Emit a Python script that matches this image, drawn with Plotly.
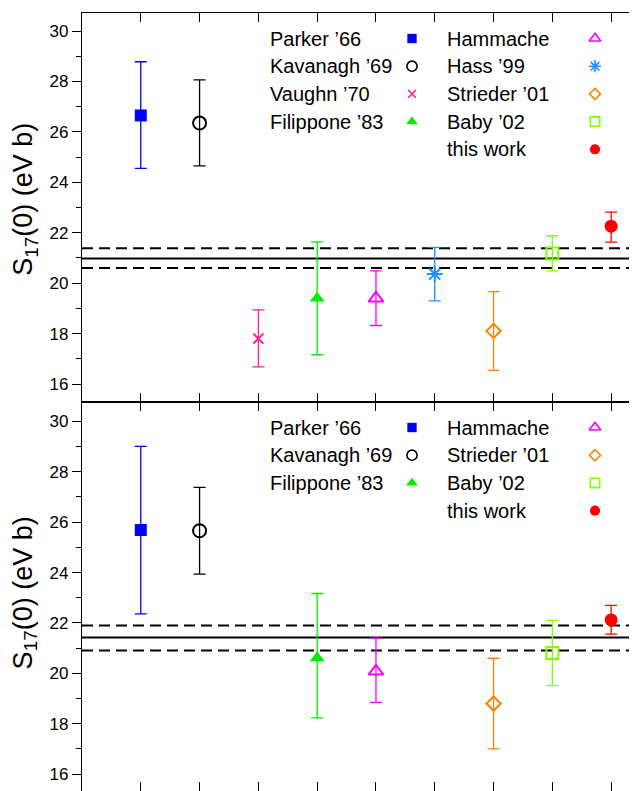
import plotly.graph_objects as go

# ---------------- data ----------------
studies_top = ["Parker ’66", "Kavanagh ’69", "Vaughn ’70", "Filippone ’83", "Hammache",
               "Hass ’99", "Strieder ’01", "Baby ’02", "this work"]
pos_top = [1, 2, 3, 4, 5, 6, 7, 8, 9]
s17_top = [26.65, 26.35, 17.80, 19.40, 19.40, 20.36, 18.10, 21.18, 22.26]
hi_top = [28.78, 28.06, 18.94, 21.64, 20.49, 21.42, 19.66, 21.88, 22.82]
lo_top = [24.55, 24.65, 16.68, 17.16, 18.32, 19.30, 16.54, 20.49, 21.63]
mean_top = 20.98
band_top = [20.60, 21.38]

studies_bot = ["Parker ’66", "Kavanagh ’69", "Filippone ’83", "Hammache",
               "Strieder ’01", "Baby ’02", "this work"]
pos_bot = [1, 2, 4, 5, 7, 8, 9]
s17_bot = [25.69, 25.66, 20.61, 20.08, 18.80, 20.81, 22.12]
hi_bot = [29.01, 27.38, 23.17, 21.40, 20.60, 22.10, 22.70]
lo_bot = [22.36, 23.94, 18.23, 18.85, 17.00, 19.51, 21.56]
mean_bot = 21.42
band_bot = [20.91, 21.90]

legend_top = [["Parker ’66", "Kavanagh ’69", "Vaughn ’70", "Filippone ’83"],
              ["Hammache", "Hass ’99", "Strieder ’01", "Baby ’02", "this work"]]
legend_bot = [["Parker ’66", "Kavanagh ’69", "Filippone ’83"],
              ["Hammache", "Strieder ’01", "Baby ’02", "this work"]]

y_tick_vals = [16, 18, 20, 22, 24, 26, 28, 30]
y_title = "S<sub>17</sub>(0) (eV b)"

# ---------------- styles ----------------
STYLE = {
    "Parker ’66": dict(color="#0000ff", symbol="square", size=12, lw=0),
    "Kavanagh ’69": dict(color="#000000", symbol="circle-open", size=13, lw=2),
    "Vaughn ’70": dict(color="#ff1f8f", symbol="x-thin-open", size=10, lw=2),
    "Filippone ’83": dict(color="#00ee00", symbol="triangle-up", size=13, lw=0),
    "Hammache": dict(color="#ff00ff", symbol="triangle-up-open", size=13, lw=2),
    "Hass ’99": dict(color="#1e90ff", symbol="asterisk-open", size=13, lw=2),
    "Strieder ’01": dict(color="#ff8000", symbol="diamond-open", size=11, lw=2),
    "Baby ’02": dict(color="#80ff00", symbol="square-open", size=12, lw=2),
    "this work": dict(color="#ff0000", symbol="circle", size=13, lw=0),
}
FONT = "Liberation Sans, Arial, sans-serif"
PAGE_OFF = 8                     # default body margin of the html page
W, H = 637 - PAGE_OFF, 791 - PAGE_OFF
ML, MT = 82 - PAGE_OFF, 13 - PAGE_OFF
PW = W - ML                      # plot width in px
PH = (H - MT) / 2                # panel height in px
LEG_TEXT_X = [186, 363]
LEG_MARK_X = [330, 513]
LEG_ROW0, LEG_DY = 25.5, 27.7
LEG_SCALE = 0.78

fig = go.Figure()


def add_panel(studies, pos, vals, hi, lo, xa, ya):
    for name, p, v, h, l in zip(studies, pos, vals, hi, lo):
        st = STYLE[name]
        fig.add_trace(go.Scatter(
            x=[p], y=[v], mode="markers", xaxis=xa, yaxis=ya, showlegend=False,
            marker=dict(symbol=st["symbol"], size=st["size"], color=st["color"],
                        line=dict(color=st["color"], width=st["lw"])),
            error_y=dict(type="data", symmetric=False, array=[h - v], arrayminus=[v - l],
                         color=st["color"], thickness=1.3, width=6),
        ))


def add_legend(cols, xa, ya):
    for c, col in enumerate(cols):
        for r, name in enumerate(col):
            st = STYLE[name]
            yy = LEG_ROW0 + r * LEG_DY
            fig.add_annotation(x=LEG_TEXT_X[c], y=yy, xref=xa, yref=ya, text=name,
                               showarrow=False, xanchor="left", yanchor="middle",
                               font=dict(size=20, family=FONT, color="black"))
            fig.add_trace(go.Scatter(
                x=[LEG_MARK_X[c]], y=[yy], mode="markers", xaxis=xa, yaxis=ya,
                showlegend=False, hoverinfo="skip",
                marker=dict(symbol=st["symbol"], size=st["size"] * LEG_SCALE,
                            color=st["color"],
                            line=dict(color=st["color"], width=min(st["lw"], 1.6)))))


def add_means(mean, band, yref):
    xref = "x domain" if yref == "y" else "x2 domain"
    fig.add_shape(type="line", xref=xref, x0=0, x1=1, yref=yref, y0=mean, y1=mean,
                  line=dict(color="black", width=2), layer="below")
    for b in band:
        fig.add_shape(type="line", xref=xref, x0=0, x1=1, yref=yref, y0=b, y1=b,
                      line=dict(color="black", width=2, dash="11px,6px"), layer="below")


add_means(mean_top, band_top, "y")
add_means(mean_bot, band_bot, "y2")
add_panel(studies_top, pos_top, s17_top, hi_top, lo_top, "x", "y")
add_panel(studies_bot, pos_bot, s17_bot, hi_bot, lo_bot, "x2", "y2")
add_legend(legend_top, "x3", "y3")
add_legend(legend_bot, "x4", "y4")

# dummy traces so the right-side tick axes are drawn
fig.add_trace(go.Scatter(x=[None], y=[None], xaxis="x", yaxis="y5", showlegend=False))
fig.add_trace(go.Scatter(x=[None], y=[None], xaxis="x2", yaxis="y6", showlegend=False))

XR = [0, 9.44]
YR_TOP = [15.286, 30.714]
YR_BOT = [15.33, 30.77]

xcommon = dict(range=XR, tick0=0, dtick=1, ticks="inside", ticklen=9, tickwidth=1.4,
               tickcolor="black", showticklabels=False, showline=True, mirror="ticks",
               linecolor="black", linewidth=1.3, showgrid=False, zeroline=False)
ycommon = dict(tickvals=y_tick_vals, ticks="outside", ticklen=9, tickwidth=1.4,
               tickcolor="black", showline=True, linecolor="black", linewidth=1.4,
               showgrid=False, zeroline=False, automargin=False,
               tickfont=dict(size=17, family=FONT, color="black"),
               minor=dict(dtick=1, tick0=0, ticks="outside", ticklen=5, tickwidth=1.4,
                          tickcolor="black", showgrid=False))
yright = dict(tickvals=y_tick_vals, ticks="inside", ticklen=7, tickwidth=1.4,
              tickcolor="black", showline=False, showgrid=False, zeroline=False,
              showticklabels=False, side="right", automargin=False,
              minor=dict(dtick=1, tick0=0, ticks="inside", ticklen=4, tickwidth=1.4,
                         tickcolor="black", showgrid=False))

fig.update_layout(
    width=W, height=H, margin=dict(l=ML, r=0, t=MT, b=0, pad=0),
    paper_bgcolor="white", plot_bgcolor="rgba(0,0,0,0)", showlegend=False,
    font=dict(family=FONT, color="black"),
    xaxis=dict(domain=[0, 1], anchor="y", **xcommon),
    yaxis=dict(domain=[0.5, 1], anchor="x", range=YR_TOP, **ycommon),
    xaxis2=dict(domain=[0, 1], anchor="y2", **xcommon),
    yaxis2=dict(domain=[0, 0.5], anchor="x2", range=YR_BOT, **ycommon),
    xaxis3=dict(overlaying="x", anchor="y3", range=[0, PW], visible=False),
    yaxis3=dict(overlaying="y", anchor="x3", range=[PH, 0], visible=False),
    xaxis4=dict(overlaying="x2", anchor="y4", range=[0, PW], visible=False),
    yaxis4=dict(overlaying="y2", anchor="x4", range=[PH, 0], visible=False),
    yaxis5=dict(overlaying="y", anchor="x", range=YR_TOP, **yright),
    yaxis6=dict(overlaying="y2", anchor="x2", range=YR_BOT, **yright),
)

TITLE_X_PX = 25 - PAGE_OFF
for yref, yy in (("y domain", 0.52), ("y2 domain", 0.508)):
    fig.add_annotation(text=y_title, xref="paper", x=(TITLE_X_PX - ML) / PW, yref=yref, y=yy,
                       textangle=-90, showarrow=False, xanchor="center", yanchor="middle",
                       borderpad=0, font=dict(size=27, family=FONT, color="black"))

fig.write_html("out.html")
